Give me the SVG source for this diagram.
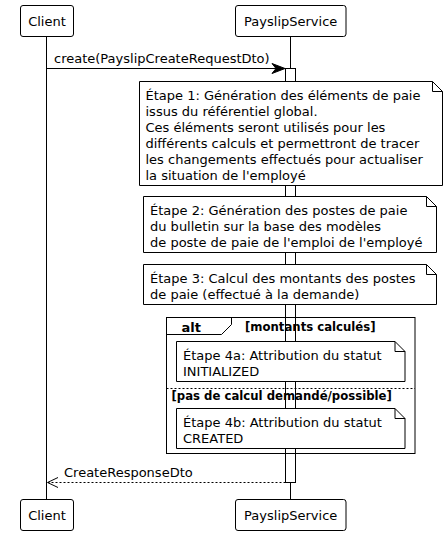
<svg xmlns="http://www.w3.org/2000/svg" width="448" height="535" viewBox="0 0 448 535">
<style>
text{font-family:"DejaVu Sans","Liberation Sans",sans-serif;font-size:13px;fill:#000}
.b{stroke:#000;stroke-width:1;fill:#fff}
.l{stroke:#000;stroke-width:1;fill:none}
.g{font-weight:bold;font-size:11.7px}
.a{font-weight:bold;font-size:13px}
.m{text-anchor:middle}
</style>
<rect width="448" height="535" fill="#fff"/>
<g id="lifelines">
<line class="l" x1="46.5" y1="36" x2="46.5" y2="499.5"/>
<line class="l" x1="290.5" y1="36" x2="290.5" y2="499.5"/>
</g>
<g id="client-top"><rect class="b" x="20.5" y="5.5" width="53" height="31" rx="2.5"/><text class="m" x="47" y="25.5">Client</text></g>
<g id="service-top"><rect class="b" x="235.5" y="5.5" width="110.5" height="31" rx="2.5"/><text class="m" x="290.7" y="25.5">PayslipService</text></g>
<g id="client-bottom"><rect class="b" x="20.5" y="499.5" width="53" height="31" rx="2.5"/><text class="m" x="47" y="519.5">Client</text></g>
<g id="service-bottom"><rect class="b" x="235.5" y="499.5" width="110.5" height="31" rx="2.5"/><text class="m" x="290.7" y="519.5">PayslipService</text></g>
<g id="activation"><rect class="b" x="285.5" y="68.5" width="10" height="414"/></g>
<g id="connectors">
<line class="l" x1="46.5" y1="68.5" x2="280" y2="68.5"/>
<polygon points="285,68.5 272,63.5 276,68.5 272,73.5" fill="#000" stroke="#000" stroke-width="1"/>
<text x="54" y="63">create(PayslipCreateRequestDto)</text>
<line class="l" x1="285.5" y1="482.5" x2="48" y2="482.5" stroke-dasharray="2,2"/>
<polyline class="l" points="58,477.5 47.5,482.5 58,487.5" stroke-width="1.5"/>
<text x="64" y="476.5">CreateResponseDto</text>
</g>
<g id="note1">
<path class="b" d="M139.5,81.5 H432.5 L442.5,91.5 V185.5 H139.5 Z"/>
<path class="l" d="M432.5,81.5 V91.5 H442.5"/>
<text x="145.5" y="100">Étape 1: Génération des éléments de paie</text>
<text x="145.5" y="116">issus du référentiel global.</text>
<text x="145.5" y="132">Ces éléments seront utilisés pour les</text>
<text x="145.5" y="148">différents calculs et permettront de tracer</text>
<text x="145.5" y="164">les changements effectués pour actualiser</text>
<text x="145.5" y="180">la situation de l'employé</text>
</g>
<g id="note2">
<path class="b" d="M143.5,196.5 H426.5 L436.5,206.5 V252.5 H143.5 Z"/>
<path class="l" d="M426.5,196.5 V206.5 H436.5"/>
<text x="150" y="214.5">Étape 2: Génération des postes de paie</text>
<text x="150" y="230.5">du bulletin sur la base des modèles</text>
<text x="150" y="246.5">de poste de paie de l'emploi de l'employé</text>
</g>
<g id="note3">
<path class="b" d="M143.5,264.5 H426.5 L436.5,274.5 V304.5 H143.5 Z"/>
<path class="l" d="M426.5,264.5 V274.5 H436.5"/>
<text x="150" y="283">Étape 3: Calcul des montants des postes</text>
<text x="150" y="299">de paie (effectué à la demande)</text>
</g>
<g id="alt">
<rect class="l" x="166.5" y="317.5" width="248.5" height="136"/>
<path class="l" d="M166.5,334.5 H221.5 L231.5,324.5 V317.5"/>
<text class="a" x="181.5" y="331.5">alt</text>
<text class="g" x="245" y="330.5">[montants calculés]</text>
<line class="l" x1="166.5" y1="388.5" x2="415" y2="388.5" stroke-dasharray="2,2"/>
<text class="g" x="171.5" y="399.5">[pas de calcul demandé/possible]</text>
</g>
<g id="note4a">
<path class="b" d="M176.5,341.5 H395 L405,351.5 V381.5 H176.5 Z"/>
<path class="l" d="M395,341.5 V351.5 H405"/>
<text x="183" y="359.5">Étape 4a: Attribution du statut</text>
<text x="183" y="375.5">INITIALIZED</text>
</g>
<g id="note4b">
<path class="b" d="M176.5,408.5 H395 L405,418.5 V448.5 H176.5 Z"/>
<path class="l" d="M395,408.5 V418.5 H405"/>
<text x="183" y="426.5">Étape 4b: Attribution du statut</text>
<text x="183" y="442.5">CREATED</text>
</g>
</svg>
